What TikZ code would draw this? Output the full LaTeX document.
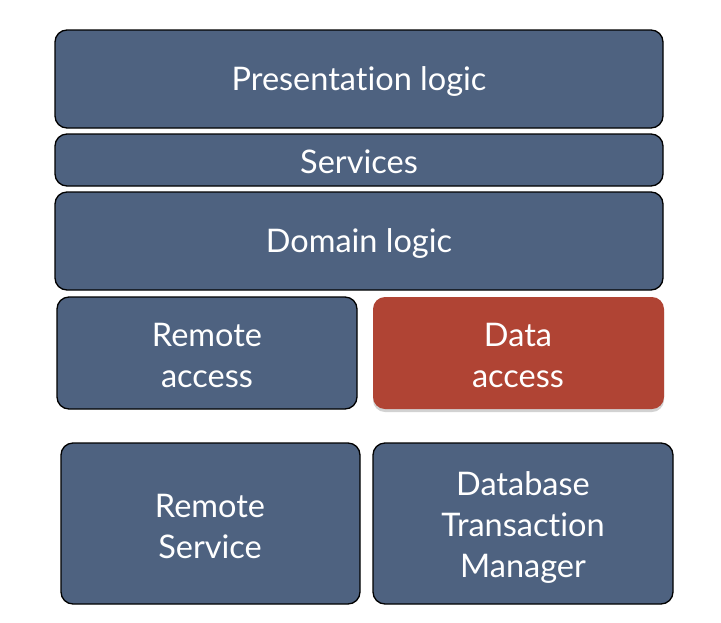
\documentclass[tikz,border=0pt]{standalone}
\usepackage{fontspec}
\setmainfont[Ligatures={NoCommon,NoRare,NoContextual}]{Lato}
\usetikzlibrary{shadows}
\definecolor{boxblue}{RGB}{78,98,128}
\definecolor{boxred}{RGB}{176,68,52}
\tikzset{
  layer/.style={draw=black, line width=1.3pt, fill=boxblue, rounded corners=12pt},
  hot/.style={fill=boxred, rounded corners=12pt, drop shadow={shadow xshift=0pt, shadow yshift=-3pt, opacity=0.35}},
  lbl/.style={text=white, font=\fontsize{32.5}{41}\selectfont, align=center},
}
\begin{document}
\begin{tikzpicture}[x=1pt,y=-1pt]
\useasboundingbox (0,0) rectangle (721,622);
\fill[white] (0,0) rectangle (721,622);
\draw[layer] (55,30) rectangle (663,128);
\node[lbl] (pres) at (359,81) {Presentation logic};
\draw[layer] (55,134) rectangle (663,186);
\node[lbl] (serv) at (359,162) {Services};
\draw[layer] (55,192) rectangle (663,290);
\node[lbl] (dom) at (359,243) {Domain logic};
\draw[layer] (57,297) rectangle (357,409);
\node[lbl] (ra) at (207,355) {Remote\\access};
\fill[hot] (373,297) rectangle (664,409);
\node[lbl] (da) at (518,355) {Data\\access};
\draw[layer] (61,443) rectangle (360,604);
\node[lbl] (rs) at (210,526) {Remote\\Service};
\draw[layer] (373,443) rectangle (673,604);
\node[lbl] (db) at (523,527) {Database\\Transaction\\Manager};
\end{tikzpicture}
\end{document}
